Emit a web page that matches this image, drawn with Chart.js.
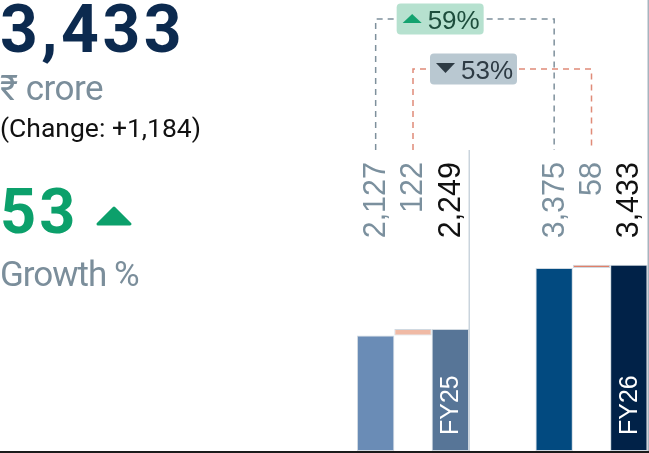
<!DOCTYPE html>
<html>
<head>
<meta charset="utf-8">
<script src="https://cdn.jsdelivr.net/npm/chart.js@4.4.1/dist/chart.umd.min.js"></script>
<style>
html, body { margin: 0; padding: 0; background: #fff; }
#wrap { position: relative; width: 649px; height: 453px; overflow: hidden; font-family: Roboto, "Noto Sans", sans-serif; }
#chart { position: absolute; left: 0; top: 0; }
.t { position: absolute; left: 0; white-space: nowrap; line-height: 1; }
#headline { top: -3.5px; font-size: 66px; font-weight: 700; color: #0c2a4f; letter-spacing: 3.5px; }
#unit { top: 71px; font-size: 35px; color: #7b8e9b; letter-spacing: -0.5px; }
#change { top: 114.5px; font-size: 26.5px; color: #111; }
#growth { top: 180px; font-size: 63px; font-weight: 700; color: #0ca06b; letter-spacing: 3px; }
#growthLabel { top: 257px; font-size: 35px; color: #7b8e9b; letter-spacing: -1px; }
#arrow { position: absolute; left: 95px; top: 205px; }
</style>
</head>
<body>
<div id="wrap">
  <canvas id="chart" width="649" height="453"></canvas>
  <div class="t" id="headline"></div>
  <div class="t" id="unit">₹ crore</div>
  <div class="t" id="change"></div>
  <div class="t" id="growth"></div>
  <svg id="arrow" width="40" height="22"><polygon points="3,19 19,3 35,19" fill="#0ca06b" stroke="#0ca06b" stroke-width="3" stroke-linejoin="round"/></svg>
  <div class="t" id="growthLabel">Growth %</div>
</div>
<script>
// values
const categories = ["FY25", "FY26"];
const startValues = [2127, 3375];
const changeValues = [122, 58];
const totalValues = [2249, 3433];
const bracketPcts = [59, -53];   // start-to-start, change-to-change
const headlineValue = 3433;
const headlineChange = 1184;
const headlineGrowth = 53;

const startColors = ["#6a8cb6", "#024a80"];
const changeColors = ["#f0baa5", "#e07f68"];
const totalColors = ["#577597", "#012248"];

const fmt = v => v.toLocaleString("en-US");

document.getElementById("headline").textContent = fmt(headlineValue);
document.getElementById("change").textContent = `(Change: +${fmt(headlineChange)})`;
document.getElementById("growth").textContent = headlineGrowth;

const LABEL_FONT = '"Liberation Sans", Arial, sans-serif';

function roundBox(ctx, x, y, w, h, r) {
    ctx.beginPath();
    ctx.moveTo(x + r, y);
    ctx.lineTo(x + w - r, y);
    ctx.quadraticCurveTo(x + w, y, x + w, y + r);
    ctx.lineTo(x + w, y + h - r);
    ctx.quadraticCurveTo(x + w, y + h, x + w - r, y + h);
    ctx.lineTo(x + r, y + h);
    ctx.quadraticCurveTo(x, y + h, x, y + h - r);
    ctx.lineTo(x, y + r);
    ctx.quadraticCurveTo(x, y, x + r, y);
    ctx.closePath();
}

function vText(ctx, text, x, y, align, color, size) {
    ctx.save();
    ctx.translate(x, y);
    ctx.rotate(-Math.PI / 2);
    ctx.font = `${size}px ${LABEL_FONT}`;
    ctx.fillStyle = color;
    ctx.textAlign = align;
    ctx.textBaseline = "middle";
    ctx.fillText(text, 0, 1);
    ctx.restore();
}

function bracket(ctx, x1, x2, yTop, yBottom, color) {
    ctx.save();
    ctx.strokeStyle = color;
    ctx.lineWidth = 1.5;
    ctx.setLineDash([6, 5]);
    ctx.beginPath();
    ctx.moveTo(x1, yBottom);
    ctx.lineTo(x1, yTop);
    ctx.lineTo(x2, yTop);
    ctx.lineTo(x2, yBottom);
    ctx.stroke();
    ctx.restore();
}

function badge(ctx, x, yc, pct, bg, arrowColor, textColor) {
    ctx.save();
    roundBox(ctx, x, yc - 15.5, 87, 31, 4);
    ctx.fillStyle = bg;
    ctx.fill();
    ctx.fillStyle = arrowColor;
    ctx.beginPath();
    if (pct >= 0) {
        ctx.moveTo(x + 6, yc + 4);
        ctx.lineTo(x + 25, yc + 4);
        ctx.lineTo(x + 15.5, yc - 5);
    } else {
        ctx.moveTo(x + 6, yc - 6);
        ctx.lineTo(x + 25, yc - 6);
        ctx.lineTo(x + 15.5, yc + 4);
    }
    ctx.closePath();
    ctx.fill();
    ctx.font = `26px ${LABEL_FONT}`;
    ctx.fillStyle = textColor;
    ctx.textAlign = "left";
    ctx.textBaseline = "alphabetic";
    ctx.fillText(`${Math.abs(pct)}%`, x + 31, yc + 9.5);
    ctx.restore();
}

const annotate = {
    id: "annotate",
    afterDatasetsDraw(chart) {
        const ctx = chart.ctx;
        const area = chart.chartArea;
        const s = chart.getDatasetMeta(0).data;
        const c = chart.getDatasetMeta(1).data;
        const t = chart.getDatasetMeta(2).data;
        const labelTop = area.top - 72;

        // separator after FY25 and right border line
        ctx.save();
        ctx.fillStyle = "#cad4dd";
        ctx.fillRect(t[0].x + t[0].width / 2 - 0.5, labelTop - 12, 1.5, area.bottom - labelTop + 12);
        ctx.fillStyle = "#a7b4be";
        ctx.fillRect(t[1].x + t[1].width / 2, 0, 1.5, chart.height);
        // baseline
        ctx.fillStyle = "#1b1b1b";
        ctx.fillRect(0, area.bottom, chart.width, 2);
        ctx.restore();

        categories.forEach((cat, j) => {
            vText(ctx, fmt(startValues[j]), s[j].x, labelTop, "right", "#7b909e", 30.5);
            vText(ctx, fmt(changeValues[j]), c[j].x, labelTop, "right", "#7b909e", 30.5);
            vText(ctx, fmt(totalValues[j]), t[j].x, labelTop, "right", "#111111", 30.5);
            vText(ctx, cat, t[j].x, area.bottom - 16, "left", "#ffffff", 25);
        });

        const yGrey = 19, yRed = 69, yEnd = labelTop - 12;
        bracket(ctx, s[0].x, s[1].x, yGrey, yEnd, "#7e909c");
        bracket(ctx, c[0].x, c[1].x, yRed, yEnd, "#e08b78");
        badge(ctx, s[0].x + 21, yGrey, bracketPcts[0], "#b6e1cf", "#13a26f", "#1d4d3c");
        badge(ctx, c[0].x + 17, yRed, bracketPcts[1], "#b9c8d1", "#2e3b44", "#2e3b44");
    }
};

new Chart(document.getElementById("chart"), {
    type: "bar",
    data: {
        labels: categories,
        datasets: [
            { label: "Start", data: startValues, backgroundColor: startColors },
            { label: "Change", data: startValues.map((v, i) => [v, totalValues[i]]), backgroundColor: changeColors },
            { label: "Total", data: totalValues, backgroundColor: totalColors }
        ]
    },
    options: {
        responsive: false,
        animation: false,
        devicePixelRatio: 1,
        layout: { padding: { left: 413, right: 57.5, top: 234, bottom: 2 } },
        datasets: {
            bar: {
                categoryPercentage: 0.6275,
                barPercentage: 1,
                borderWidth: 1,
                borderColor: "#d0d9e1",
                borderSkipped: false,
                clip: false
            }
        },
        scales: {
            x: { type: "category", offset: false, display: false },
            y: { min: 0, max: 4000, display: false }
        },
        plugins: {
            legend: { display: false },
            tooltip: { enabled: false }
        }
    },
    plugins: [annotate]
});
</script>
</body>
</html>
